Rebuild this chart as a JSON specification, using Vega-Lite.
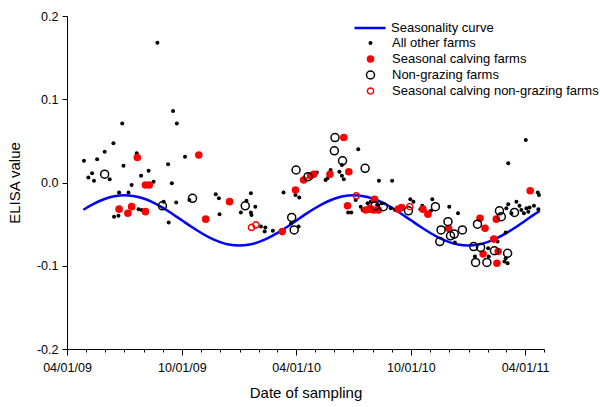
{
  "$schema": "https://vega.github.io/schema/vega-lite/v6.json",
  "width": 477,
  "height": 333,
  "autosize": {"type": "none"},
  "padding": {"left": 67, "top": 16, "right": 56, "bottom": 58},
  "background": "white",
  "datasets": {
    "curve": [
      {"date": "2009-04-27", "v": -0.0328}, {"date": "2009-05-01", "v": -0.0309}, {"date": "2009-05-15", "v": -0.0250},
      {"date": "2009-06-01", "v": -0.0195}, {"date": "2009-06-15", "v": -0.0166}, {"date": "2009-07-01", "v": -0.0153},
      {"date": "2009-07-15", "v": -0.0161}, {"date": "2009-08-01", "v": -0.0192}, {"date": "2009-08-15", "v": -0.0235},
      {"date": "2009-09-01", "v": -0.0305}, {"date": "2009-09-15", "v": -0.0372}, {"date": "2009-10-01", "v": -0.0454},
      {"date": "2009-10-15", "v": -0.0526}, {"date": "2009-11-01", "v": -0.0607}, {"date": "2009-11-15", "v": -0.0665},
      {"date": "2009-12-01", "v": -0.0716}, {"date": "2009-12-15", "v": -0.0745}, {"date": "2010-01-01", "v": -0.0757},
      {"date": "2010-01-15", "v": -0.0748}, {"date": "2010-02-01", "v": -0.0714}, {"date": "2010-02-15", "v": -0.0669},
      {"date": "2010-03-01", "v": -0.0612}, {"date": "2010-03-15", "v": -0.0546}, {"date": "2010-04-01", "v": -0.0459},
      {"date": "2010-04-15", "v": -0.0386}, {"date": "2010-05-01", "v": -0.0309}, {"date": "2010-05-15", "v": -0.0250},
      {"date": "2010-06-01", "v": -0.0195}, {"date": "2010-06-15", "v": -0.0166}, {"date": "2010-07-01", "v": -0.0153},
      {"date": "2010-07-15", "v": -0.0161}, {"date": "2010-08-01", "v": -0.0192}, {"date": "2010-08-15", "v": -0.0235},
      {"date": "2010-09-01", "v": -0.0305}, {"date": "2010-09-15", "v": -0.0372}, {"date": "2010-10-01", "v": -0.0454},
      {"date": "2010-10-15", "v": -0.0526}, {"date": "2010-11-01", "v": -0.0607}, {"date": "2010-11-15", "v": -0.0665},
      {"date": "2010-12-01", "v": -0.0716}, {"date": "2010-12-15", "v": -0.0745}, {"date": "2011-01-01", "v": -0.0757},
      {"date": "2011-01-15", "v": -0.0748}, {"date": "2011-02-01", "v": -0.0714}, {"date": "2011-02-15", "v": -0.0669},
      {"date": "2011-03-01", "v": -0.0612}, {"date": "2011-03-15", "v": -0.0546}, {"date": "2011-04-01", "v": -0.0459},
      {"date": "2011-04-15", "v": -0.0386}, {"date": "2011-04-24", "v": -0.0342}
    ],
    "farms": [
      {"date": "2009-04-28", "elisa": 0.026, "group": "All other farms"},
      {"date": "2009-05-05", "elisa": 0.006, "group": "All other farms"},
      {"date": "2009-05-11", "elisa": 0.011, "group": "All other farms"},
      {"date": "2009-05-14", "elisa": 0.002, "group": "All other farms"},
      {"date": "2009-05-19", "elisa": 0.028, "group": "All other farms"},
      {"date": "2009-05-31", "elisa": 0.037, "group": "All other farms"},
      {"date": "2009-06-08", "elisa": 0.004, "group": "All other farms"},
      {"date": "2009-06-14", "elisa": 0.047, "group": "All other farms"},
      {"date": "2009-06-15", "elisa": -0.041, "group": "All other farms"},
      {"date": "2009-06-22", "elisa": -0.040, "group": "All other farms"},
      {"date": "2009-06-23", "elisa": -0.012, "group": "All other farms"},
      {"date": "2009-06-28", "elisa": 0.071, "group": "All other farms"},
      {"date": "2009-06-30", "elisa": 0.020, "group": "All other farms"},
      {"date": "2009-07-08", "elisa": -0.012, "group": "All other farms"},
      {"date": "2009-07-13", "elisa": -0.003, "group": "All other farms"},
      {"date": "2009-07-21", "elisa": 0.035, "group": "All other farms"},
      {"date": "2009-07-24", "elisa": -0.032, "group": "All other farms"},
      {"date": "2009-07-28", "elisa": 0.008, "group": "All other farms"},
      {"date": "2009-07-29", "elisa": -0.033, "group": "All other farms"},
      {"date": "2009-08-09", "elisa": 0.014, "group": "All other farms"},
      {"date": "2009-08-17", "elisa": 0.001, "group": "All other farms"},
      {"date": "2009-08-23", "elisa": 0.168, "group": "All other farms"},
      {"date": "2009-09-02", "elisa": -0.023, "group": "All other farms"},
      {"date": "2009-09-09", "elisa": 0.022, "group": "All other farms"},
      {"date": "2009-09-10", "elisa": -0.048, "group": "All other farms"},
      {"date": "2009-09-15", "elisa": -0.001, "group": "All other farms"},
      {"date": "2009-09-17", "elisa": 0.086, "group": "All other farms"},
      {"date": "2009-09-22", "elisa": -0.024, "group": "All other farms"},
      {"date": "2009-09-23", "elisa": 0.071, "group": "All other farms"},
      {"date": "2009-10-06", "elisa": 0.031, "group": "All other farms"},
      {"date": "2009-10-13", "elisa": -0.021, "group": "All other farms"},
      {"date": "2009-11-24", "elisa": -0.014, "group": "All other farms"},
      {"date": "2009-11-29", "elisa": -0.019, "group": "All other farms"},
      {"date": "2009-11-30", "elisa": -0.038, "group": "All other farms"},
      {"date": "2010-01-03", "elisa": -0.036, "group": "All other farms"},
      {"date": "2010-01-12", "elisa": -0.022, "group": "All other farms"},
      {"date": "2010-01-19", "elisa": -0.013, "group": "All other farms"},
      {"date": "2010-01-19", "elisa": -0.036, "group": "All other farms"},
      {"date": "2010-01-20", "elisa": -0.039, "group": "All other farms"},
      {"date": "2010-01-26", "elisa": -0.029, "group": "All other farms"},
      {"date": "2010-02-04", "elisa": -0.053, "group": "All other farms"},
      {"date": "2010-02-10", "elisa": -0.059, "group": "All other farms"},
      {"date": "2010-02-11", "elisa": -0.054, "group": "All other farms"},
      {"date": "2010-02-23", "elisa": -0.058, "group": "All other farms"},
      {"date": "2010-03-12", "elisa": -0.012, "group": "All other farms"},
      {"date": "2010-03-24", "elisa": -0.049, "group": "All other farms"},
      {"date": "2010-03-31", "elisa": -0.015, "group": "All other farms"},
      {"date": "2010-04-05", "elisa": -0.053, "group": "All other farms"},
      {"date": "2010-04-06", "elisa": -0.018, "group": "All other farms"},
      {"date": "2010-05-04", "elisa": 0.012, "group": "All other farms"},
      {"date": "2010-05-18", "elisa": 0.003, "group": "All other farms"},
      {"date": "2010-05-21", "elisa": 0.005, "group": "All other farms"},
      {"date": "2010-05-26", "elisa": 0.015, "group": "All other farms"},
      {"date": "2010-06-09", "elisa": 0.013, "group": "All other farms"},
      {"date": "2010-06-13", "elisa": 0.008, "group": "All other farms"},
      {"date": "2010-06-16", "elisa": 0.004, "group": "All other farms"},
      {"date": "2010-06-13", "elisa": 0.021, "group": "All other farms"},
      {"date": "2010-06-23", "elisa": -0.036, "group": "All other farms"},
      {"date": "2010-06-28", "elisa": -0.036, "group": "All other farms"},
      {"date": "2010-07-05", "elisa": -0.021, "group": "All other farms"},
      {"date": "2010-07-09", "elisa": 0.040, "group": "All other farms"},
      {"date": "2010-07-13", "elisa": -0.029, "group": "All other farms"},
      {"date": "2010-07-16", "elisa": -0.033, "group": "All other farms"},
      {"date": "2010-07-24", "elisa": -0.025, "group": "All other farms"},
      {"date": "2010-07-29", "elisa": -0.023, "group": "All other farms"},
      {"date": "2010-08-08", "elisa": -0.027, "group": "All other farms"},
      {"date": "2010-08-11", "elisa": 0.002, "group": "All other farms"},
      {"date": "2010-08-16", "elisa": -0.025, "group": "All other farms"},
      {"date": "2010-08-30", "elisa": -0.031, "group": "All other farms"},
      {"date": "2010-09-01", "elisa": 0.002, "group": "All other farms"},
      {"date": "2010-09-06", "elisa": -0.033, "group": "All other farms"},
      {"date": "2010-09-30", "elisa": -0.020, "group": "All other farms"},
      {"date": "2010-10-05", "elisa": -0.023, "group": "All other farms"},
      {"date": "2010-10-16", "elisa": -0.032, "group": "All other farms"},
      {"date": "2010-10-19", "elisa": -0.028, "group": "All other farms"},
      {"date": "2010-11-02", "elisa": -0.034, "group": "All other farms"},
      {"date": "2010-11-04", "elisa": -0.020, "group": "All other farms"},
      {"date": "2010-12-01", "elisa": -0.029, "group": "All other farms"},
      {"date": "2010-12-10", "elisa": -0.072, "group": "All other farms"},
      {"date": "2010-12-15", "elisa": -0.037, "group": "All other farms"},
      {"date": "2011-01-11", "elisa": -0.089, "group": "All other farms"},
      {"date": "2011-02-01", "elisa": -0.079, "group": "All other farms"},
      {"date": "2011-02-02", "elisa": -0.089, "group": "All other farms"},
      {"date": "2011-02-16", "elisa": -0.071, "group": "All other farms"},
      {"date": "2011-02-27", "elisa": -0.095, "group": "All other farms"},
      {"date": "2011-03-01", "elisa": -0.091, "group": "All other farms"},
      {"date": "2011-03-01", "elisa": -0.060, "group": "All other farms"},
      {"date": "2011-03-02", "elisa": -0.031, "group": "All other farms"},
      {"date": "2011-03-04", "elisa": -0.097, "group": "All other farms"},
      {"date": "2011-03-05", "elisa": -0.026, "group": "All other farms"},
      {"date": "2011-03-05", "elisa": 0.023, "group": "All other farms"},
      {"date": "2011-03-10", "elisa": -0.037, "group": "All other farms"},
      {"date": "2011-03-18", "elisa": -0.023, "group": "All other farms"},
      {"date": "2011-03-23", "elisa": -0.028, "group": "All other farms"},
      {"date": "2011-03-26", "elisa": -0.033, "group": "All other farms"},
      {"date": "2011-03-30", "elisa": -0.037, "group": "All other farms"},
      {"date": "2011-04-02", "elisa": 0.051, "group": "All other farms"},
      {"date": "2011-04-03", "elisa": -0.031, "group": "All other farms"},
      {"date": "2011-04-06", "elisa": -0.035, "group": "All other farms"},
      {"date": "2011-04-08", "elisa": -0.030, "group": "All other farms"},
      {"date": "2011-04-15", "elisa": -0.028, "group": "All other farms"},
      {"date": "2011-04-21", "elisa": -0.012, "group": "All other farms"},
      {"date": "2011-04-22", "elisa": -0.032, "group": "All other farms"},
      {"date": "2011-04-23", "elisa": -0.015, "group": "All other farms"},
      {"date": "2009-06-23", "elisa": -0.032, "group": "Seasonal calving farms"},
      {"date": "2009-07-07", "elisa": -0.037, "group": "Seasonal calving farms"},
      {"date": "2009-07-13", "elisa": -0.029, "group": "Seasonal calving farms"},
      {"date": "2009-07-22", "elisa": 0.030, "group": "Seasonal calving farms"},
      {"date": "2009-08-04", "elisa": -0.003, "group": "Seasonal calving farms"},
      {"date": "2009-08-04", "elisa": -0.035, "group": "Seasonal calving farms"},
      {"date": "2009-08-10", "elisa": -0.003, "group": "Seasonal calving farms"},
      {"date": "2009-10-28", "elisa": 0.033, "group": "Seasonal calving farms"},
      {"date": "2009-11-08", "elisa": -0.044, "group": "Seasonal calving farms"},
      {"date": "2009-12-16", "elisa": -0.023, "group": "Seasonal calving farms"},
      {"date": "2010-03-10", "elisa": -0.059, "group": "Seasonal calving farms"},
      {"date": "2010-03-31", "elisa": -0.009, "group": "Seasonal calving farms"},
      {"date": "2010-04-13", "elisa": 0.003, "group": "Seasonal calving farms"},
      {"date": "2010-04-24", "elisa": 0.008, "group": "Seasonal calving farms"},
      {"date": "2010-04-29", "elisa": 0.010, "group": "Seasonal calving farms"},
      {"date": "2010-05-25", "elisa": 0.010, "group": "Seasonal calving farms"},
      {"date": "2010-06-16", "elisa": 0.054, "group": "Seasonal calving farms"},
      {"date": "2010-06-22", "elisa": -0.028, "group": "Seasonal calving farms"},
      {"date": "2010-06-24", "elisa": 0.013, "group": "Seasonal calving farms"},
      {"date": "2010-07-21", "elisa": -0.033, "group": "Seasonal calving farms"},
      {"date": "2010-07-27", "elisa": -0.032, "group": "Seasonal calving farms"},
      {"date": "2010-08-03", "elisa": -0.033, "group": "Seasonal calving farms"},
      {"date": "2010-08-04", "elisa": -0.020, "group": "Seasonal calving farms"},
      {"date": "2010-08-10", "elisa": -0.033, "group": "Seasonal calving farms"},
      {"date": "2010-09-11", "elisa": -0.032, "group": "Seasonal calving farms"},
      {"date": "2010-09-16", "elisa": -0.030, "group": "Seasonal calving farms"},
      {"date": "2010-10-20", "elisa": -0.032, "group": "Seasonal calving farms"},
      {"date": "2010-10-28", "elisa": -0.038, "group": "Seasonal calving farms"},
      {"date": "2010-11-30", "elisa": -0.055, "group": "Seasonal calving farms"},
      {"date": "2011-01-19", "elisa": -0.043, "group": "Seasonal calving farms"},
      {"date": "2011-01-24", "elisa": -0.086, "group": "Seasonal calving farms"},
      {"date": "2011-01-27", "elisa": -0.055, "group": "Seasonal calving farms"},
      {"date": "2011-02-10", "elisa": -0.068, "group": "Seasonal calving farms"},
      {"date": "2011-02-14", "elisa": -0.044, "group": "Seasonal calving farms"},
      {"date": "2011-02-15", "elisa": -0.097, "group": "Seasonal calving farms"},
      {"date": "2011-02-17", "elisa": -0.083, "group": "Seasonal calving farms"},
      {"date": "2011-04-09", "elisa": -0.010, "group": "Seasonal calving farms"},
      {"date": "2009-05-31", "elisa": 0.010, "group": "Non-grazing farms"},
      {"date": "2009-08-31", "elisa": -0.028, "group": "Non-grazing farms"},
      {"date": "2009-10-18", "elisa": -0.019, "group": "Non-grazing farms"},
      {"date": "2010-01-10", "elisa": -0.028, "group": "Non-grazing farms"},
      {"date": "2010-03-25", "elisa": -0.042, "group": "Non-grazing farms"},
      {"date": "2010-03-29", "elisa": -0.057, "group": "Non-grazing farms"},
      {"date": "2010-04-01", "elisa": 0.015, "group": "Non-grazing farms"},
      {"date": "2010-04-20", "elisa": 0.007, "group": "Non-grazing farms"},
      {"date": "2010-06-01", "elisa": 0.038, "group": "Non-grazing farms"},
      {"date": "2010-06-02", "elisa": 0.054, "group": "Non-grazing farms"},
      {"date": "2010-06-14", "elisa": 0.026, "group": "Non-grazing farms"},
      {"date": "2010-07-20", "elisa": 0.017, "group": "Non-grazing farms"},
      {"date": "2010-08-05", "elisa": -0.028, "group": "Non-grazing farms"},
      {"date": "2010-08-18", "elisa": -0.029, "group": "Non-grazing farms"},
      {"date": "2010-09-27", "elisa": -0.034, "group": "Non-grazing farms"},
      {"date": "2010-11-09", "elisa": -0.029, "group": "Non-grazing farms"},
      {"date": "2010-11-16", "elisa": -0.071, "group": "Non-grazing farms"},
      {"date": "2010-11-18", "elisa": -0.057, "group": "Non-grazing farms"},
      {"date": "2010-11-29", "elisa": -0.047, "group": "Non-grazing farms"},
      {"date": "2010-12-03", "elisa": -0.064, "group": "Non-grazing farms"},
      {"date": "2010-12-09", "elisa": -0.062, "group": "Non-grazing farms"},
      {"date": "2010-12-22", "elisa": -0.057, "group": "Non-grazing farms"},
      {"date": "2011-01-09", "elisa": -0.077, "group": "Non-grazing farms"},
      {"date": "2011-01-12", "elisa": -0.096, "group": "Non-grazing farms"},
      {"date": "2011-01-15", "elisa": -0.050, "group": "Non-grazing farms"},
      {"date": "2011-01-20", "elisa": -0.078, "group": "Non-grazing farms"},
      {"date": "2011-01-30", "elisa": -0.096, "group": "Non-grazing farms"},
      {"date": "2011-02-11", "elisa": -0.082, "group": "Non-grazing farms"},
      {"date": "2011-02-19", "elisa": -0.034, "group": "Non-grazing farms"},
      {"date": "2011-02-22", "elisa": -0.041, "group": "Non-grazing farms"},
      {"date": "2011-03-04", "elisa": -0.085, "group": "Non-grazing farms"},
      {"date": "2011-03-15", "elisa": -0.036, "group": "Non-grazing farms"},
      {"date": "2010-01-20", "elisa": -0.054, "group": "Seasonal calving non-grazing farms"},
      {"date": "2010-01-27", "elisa": -0.051, "group": "Seasonal calving non-grazing farms"},
      {"date": "2010-07-06", "elisa": -0.016, "group": "Seasonal calving non-grazing farms"},
      {"date": "2010-07-28", "elisa": -0.031, "group": "Seasonal calving non-grazing farms"},
      {"date": "2010-09-29", "elisa": -0.029, "group": "Seasonal calving non-grazing farms"}
    ]
  },
  "encoding": {
    "x": {
      "field": "date", "type": "temporal", "title": "Date of sampling",
      "scale": {"type": "utc", "domain": [{"year": 2009, "month": 4, "date": 1, "utc": true}, {"year": 2011, "month": 5, "date": 1, "utc": true}], "nice": false},
      "axis": {
        "values": [
          {"year": 2009, "month": 4, "date": 1, "utc": true}, {"year": 2009, "month": 5, "date": 1, "utc": true},
          {"year": 2009, "month": 6, "date": 1, "utc": true}, {"year": 2009, "month": 7, "date": 1, "utc": true},
          {"year": 2009, "month": 8, "date": 1, "utc": true}, {"year": 2009, "month": 9, "date": 1, "utc": true},
          {"year": 2009, "month": 10, "date": 1, "utc": true}, {"year": 2009, "month": 11, "date": 1, "utc": true},
          {"year": 2009, "month": 12, "date": 1, "utc": true}, {"year": 2010, "month": 1, "date": 1, "utc": true},
          {"year": 2010, "month": 2, "date": 1, "utc": true}, {"year": 2010, "month": 3, "date": 1, "utc": true},
          {"year": 2010, "month": 4, "date": 1, "utc": true}, {"year": 2010, "month": 5, "date": 1, "utc": true},
          {"year": 2010, "month": 6, "date": 1, "utc": true}, {"year": 2010, "month": 7, "date": 1, "utc": true},
          {"year": 2010, "month": 8, "date": 1, "utc": true}, {"year": 2010, "month": 9, "date": 1, "utc": true},
          {"year": 2010, "month": 10, "date": 1, "utc": true}, {"year": 2010, "month": 11, "date": 1, "utc": true},
          {"year": 2010, "month": 12, "date": 1, "utc": true}, {"year": 2011, "month": 1, "date": 1, "utc": true},
          {"year": 2011, "month": 2, "date": 1, "utc": true}, {"year": 2011, "month": 3, "date": 1, "utc": true},
          {"year": 2011, "month": 4, "date": 1, "utc": true}, {"year": 2011, "month": 5, "date": 1, "utc": true}
        ],
        "labelExpr": "(utcmonth(datum.value) == 3 || utcmonth(datum.value) == 9) ? utcFormat(datum.value, '%m/%d/%y') : ''",
        "tickSize": {"condition": {"test": "utcmonth(datum.value) == 3 || utcmonth(datum.value) == 9", "value": 6}, "value": 3},
        "labelPadding": 6,
        "labelOverlap": false,
        "labelSeparation": -200,
        "labelFlush": false,
        "titlePadding": 12
      }
    }
  },
  "layer": [
    {
      "data": {"name": "curve"},
      "mark": {"type": "line", "strokeWidth": 2.5, "interpolate": "monotone"},
      "encoding": {
        "y": {
          "field": "v", "type": "quantitative", "title": "ELISA value",
          "scale": {"domain": [-0.2, 0.2], "nice": false, "zero": false},
          "axis": {
            "values": [-0.2, -0.1, 0, 0.1, 0.2],
            "format": ".1f",
            "labelExpr": "replace(datum.label, '\u2212', '-')",
            "tickSize": 5,
            "labelPadding": 4,
            "titlePadding": 14
          }
        },
        "color": {
          "datum": "Seasonality curve",
          "type": "nominal",
          "scale": {"range": ["#0000ff"]},
          "legend": {
            "orient": "none", "legendX": 286, "legendY": 4, "title": null,
            "symbolType": "stroke", "symbolSize": 961, "symbolStrokeWidth": 2.5,
            "clipHeight": 16, "labelOffset": 4, "padding": 0, "symbolOffset": 0, "labelLimit": 300,
            "labelFont": "Liberation Sans", "labelFontSize": 13, "labelColor": "black"
          }
        }
      }
    },
    {
      "data": {"name": "farms"},
      "mark": {"type": "point", "shape": "circle", "opacity": 1},
      "encoding": {
        "y": {"field": "elisa", "type": "quantitative"},
        "fill": {
          "field": "group", "type": "nominal",
          "scale": {"domain": ["All other farms", "Seasonal calving farms", "Non-grazing farms", "Seasonal calving non-grazing farms"], "range": ["#000000", "#ff0000", "transparent", "transparent"]},
          "legend": {
            "orient": "none", "legendX": 297, "legendY": 19, "title": null,
            "clipHeight": 16, "rowPadding": 0, "labelOffset": 15, "padding": 0, "symbolOffset": 0, "labelLimit": 300,
            "labelFont": "Liberation Sans", "labelFontSize": 13, "labelColor": "black"
          }
        },
        "stroke": {
          "field": "group", "type": "nominal",
          "scale": {"domain": ["All other farms", "Seasonal calving farms", "Non-grazing farms", "Seasonal calving non-grazing farms"], "range": ["#000000", "#ff0000", "#000000", "#ff0000"]}
        },
        "size": {
          "field": "group", "type": "nominal",
          "scale": {"type": "ordinal", "domain": ["All other farms", "Seasonal calving farms", "Non-grazing farms", "Seasonal calving non-grazing farms"], "range": [16, 57, 64, 38]}
        },
        "strokeWidth": {
          "field": "group", "type": "nominal",
          "scale": {"type": "ordinal", "domain": ["All other farms", "Seasonal calving farms", "Non-grazing farms", "Seasonal calving non-grazing farms"], "range": [0, 0, 1.5, 1.5]}
        }
      }
    }
  ],
  "config": {
    "view": {"stroke": null},
    "axis": {
      "grid": false, "domainColor": "black", "tickColor": "black", "labelColor": "black", "titleColor": "black",
      "labelFont": "Liberation Sans", "labelFontSize": 12.5, "titleFont": "Liberation Sans", "titleFontSize": 15,
      "titleFontWeight": "normal"
    }
  }
}
